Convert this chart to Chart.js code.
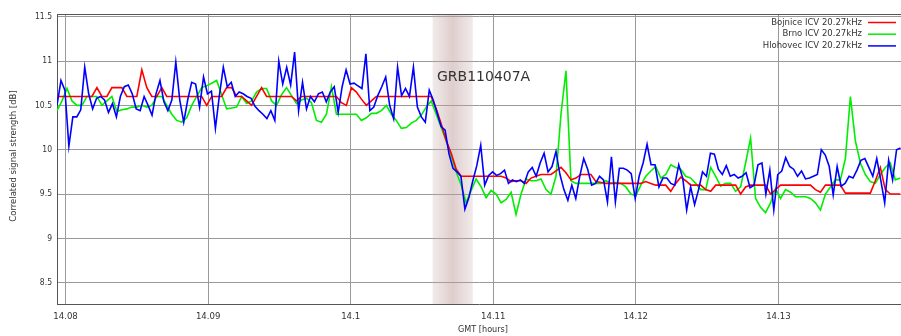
<!DOCTYPE html>
<html><head><meta charset="utf-8">
<script src="https://cdn.jsdelivr.net/npm/chart.js@4"></script>
<style>html,body{margin:0;padding:0;background:#fff;}#wrap{width:901px;height:336px;}</style>
</head><body><div id="wrap"><canvas id="c" width="901" height="336"></canvas></div>
<script>
// ---- data ----
const T0 = 14.0794;          // time of first sample (GMT hours)
const STEP_RG = 0.00035;     // hours between Bojnice / Brno samples
const STEP_B = 1 / 3600;     // hours between Hlohovec samples
const seriesNames = ['Bojnice ICV 20.27kHz', 'Brno ICV 20.27kHz', 'Hlohovec ICV 20.27kHz'];
const bojnice = [
10.6,10.6,10.6,10.6,10.6,10.6,10.6,10.6,10.7,10.6,
10.6,10.7,10.7,10.7,10.6,10.6,10.6,10.9,10.7,10.6,
10.6,10.7,10.6,10.6,10.6,10.6,10.6,10.6,10.6,10.6,
10.5,10.6,10.6,10.6,10.7,10.7,10.6,10.6,10.55,10.5,
10.6,10.7,10.6,10.6,10.6,10.6,10.6,10.6,10.55,10.6,
10.6,10.6,10.6,10.6,10.6,10.6,10.6,10.53,10.5,10.7,
10.65,10.57,10.5,10.55,10.6,10.6,10.6,10.6,10.6,10.6,
10.6,10.6,10.6,10.6,10.6,10.6,10.46,10.29,10.1,9.96,
9.78,9.7,9.7,9.7,9.7,9.7,9.7,9.7,9.7,9.7,
9.68,9.64,9.65,9.65,9.62,9.68,9.7,9.72,9.72,9.72,
9.76,9.8,9.74,9.66,9.68,9.72,9.72,9.72,9.64,9.63,
9.62,9.62,9.62,9.62,9.62,9.62,9.62,9.62,9.64,9.62,
9.6,9.6,9.6,9.53,9.62,9.69,9.65,9.6,9.6,9.6,
9.55,9.53,9.6,9.6,9.6,9.6,9.6,9.5,9.58,9.6,
9.6,9.6,9.6,9.5,9.55,9.6,9.6,9.6,9.6,9.6,
9.6,9.6,9.55,9.52,9.6,9.6,9.6,9.6,9.51,9.51,
9.51,9.51,9.51,9.51,9.65,9.8,9.55,9.5,9.5,9.5];
const brno = [
10.44,10.55,10.69,10.55,10.5,10.5,10.6,10.6,10.6,10.5,
10.55,10.6,10.43,10.45,10.46,10.48,10.48,10.5,10.48,10.5,
10.6,10.6,10.5,10.4,10.33,10.31,10.36,10.5,10.6,10.7,
10.72,10.75,10.78,10.62,10.46,10.47,10.48,10.6,10.52,10.55,
10.65,10.69,10.69,10.55,10.5,10.62,10.7,10.61,10.52,10.56,
10.58,10.53,10.33,10.31,10.4,10.71,10.4,10.4,10.4,10.4,
10.4,10.33,10.36,10.41,10.41,10.44,10.5,10.4,10.33,10.24,
10.25,10.3,10.33,10.39,10.48,10.55,10.4,10.25,10.1,9.93,
9.75,9.6,9.4,9.54,9.67,9.58,9.46,9.54,9.5,9.4,
9.44,9.52,9.27,9.5,9.67,9.65,9.65,9.67,9.55,9.5,
9.7,10.4,10.89,9.65,9.62,9.62,9.62,9.62,9.62,9.62,
9.65,9.62,9.63,9.62,9.58,9.5,9.48,9.6,9.7,9.76,
9.81,9.68,9.72,9.83,9.8,9.78,9.7,9.68,9.62,9.55,
9.55,9.8,9.7,9.59,9.62,9.62,9.53,9.58,9.85,10.13,
9.45,9.35,9.29,9.4,9.56,9.45,9.55,9.52,9.47,9.47,
9.47,9.45,9.4,9.32,9.5,9.58,9.66,9.66,9.9,10.6,
10.1,9.85,9.72,9.64,9.62,9.72,9.8,9.85,9.66,9.68];
const hlohovec = [
10.5,10.78,10.67,10.04,10.37,10.37,10.45,10.93,10.63,10.46,
10.58,10.6,10.56,10.42,10.52,10.37,10.6,10.71,10.73,10.63,
10.46,10.44,10.6,10.5,10.39,10.63,10.78,10.54,10.44,10.56,
10.99,10.56,10.31,10.56,10.76,10.74,10.48,10.82,10.63,10.66,
10.24,10.61,10.93,10.71,10.76,10.6,10.65,10.63,10.6,10.58,
10.49,10.44,10.4,10.35,10.44,10.33,11.0,10.74,10.93,10.73,
11.1,10.44,10.76,10.46,10.6,10.54,10.63,10.65,10.54,10.65,
10.71,10.42,10.71,10.9,10.74,10.75,10.72,10.69,11.08,10.44,
10.48,10.61,10.71,10.82,10.5,10.35,10.93,10.61,10.69,10.6,
10.93,10.48,10.37,10.31,10.67,10.56,10.41,10.26,10.22,9.95,
9.79,9.75,9.7,9.33,9.46,9.65,9.82,10.05,9.6,9.71,
9.75,9.71,9.73,9.77,9.62,9.66,9.64,9.66,9.62,9.75,
9.8,9.7,9.85,9.96,9.75,9.81,9.98,9.72,9.55,9.43,
9.6,9.45,9.7,9.9,9.78,9.6,9.62,9.7,9.66,9.41,
9.92,9.41,9.79,9.79,9.77,9.73,9.45,9.7,9.85,10.06,
9.83,9.83,9.58,9.68,9.68,9.62,9.6,9.83,9.68,9.32,
9.58,9.38,9.55,9.75,9.7,9.96,9.95,9.78,9.72,9.82,
9.7,9.72,9.68,9.7,9.74,9.57,9.6,9.83,9.85,9.5,
9.77,9.32,9.72,9.76,9.91,9.81,9.78,9.7,9.76,9.67,
9.68,9.7,9.72,10.0,9.94,9.81,9.49,9.81,9.59,9.62,
9.7,9.68,9.77,9.88,9.9,9.8,9.7,9.9,9.66,9.4,
9.88,9.66,10.0,10.02];
const xTicks = [14.08, 14.09, 14.10, 14.11, 14.12, 14.13];
const yTicks = [8.5, 9, 9.5, 10, 10.5, 11, 11.5];
const xRange = [14.0794, 14.1386];
const yRange = [8.26, 11.53];
const eventLabel = 'GRB110407A';
const eventSpan = [14.10575, 14.10856];
const xTitle = 'GMT [hours]';
const yTitle = 'Correlated signal strength [dB]';
const colors = ['#ff0000', '#00ee00', '#0000ff'];

// ---- build ----
const toXY = (arr, step) => arr.map((v, i) => ({ x: T0 + i * step, y: v }));

const extras = {
  id: 'extras',
  beforeDatasetsDraw(chart) {
    const { ctx, chartArea: a, scales: { x } } = chart;
    const x1 = x.getPixelForValue(eventSpan[0]), x2 = x.getPixelForValue(eventSpan[1]);
    const g = ctx.createLinearGradient(x1, 0, x2, 0);
    g.addColorStop(0, 'rgba(200,170,170,0.25)');
    g.addColorStop(0.5, 'rgba(190,155,155,0.5)');
    g.addColorStop(1, 'rgba(200,170,170,0.25)');
    ctx.save();
    ctx.fillStyle = g;
    ctx.fillRect(x1, a.top, x2 - x1, a.bottom - a.top);
    ctx.restore();
  },
  afterDraw(chart) {
    const { ctx, chartArea: a } = chart;
    ctx.save();
    // top border
    ctx.strokeStyle = '#555'; ctx.lineWidth = 1;
    ctx.beginPath(); ctx.moveTo(a.left, a.top + 0.5); ctx.lineTo(a.right, a.top + 0.5); ctx.stroke();
    // event label
    ctx.fillStyle = '#333';
    ctx.font = '14px "DejaVu Sans"';
    ctx.textAlign = 'left'; ctx.textBaseline = 'middle';
    ctx.fillText(eventLabel, 437, 77);
    // legend
    ctx.font = '8.5px "DejaVu Sans"';
    ctx.textAlign = 'right';
    seriesNames.forEach((n, k) => {
      const y = 22.5 + k * 11.7;
      ctx.fillStyle = '#333';
      ctx.fillText(n, 862, y);
      ctx.strokeStyle = colors[k]; ctx.lineWidth = 1.5;
      ctx.beginPath(); ctx.moveTo(868, y); ctx.lineTo(896, y); ctx.stroke();
    });
    // axis titles
    ctx.fillStyle = '#333';
    ctx.textAlign = 'center';
    ctx.font = '9px "DejaVu Sans Condensed"';
    ctx.fillText(xTitle, 483, 330);
    ctx.translate(14, 156); ctx.rotate(-Math.PI / 2);
    ctx.font = '8.5px "DejaVu Sans"';
    ctx.fillText(yTitle, 0, 0);
    ctx.restore();
  }
};

new Chart(document.getElementById('c'), {
  type: 'line',
  data: {
    datasets: [
      { label: seriesNames[0], data: toXY(bojnice, STEP_RG), borderColor: colors[0], order: 1 },
      { label: seriesNames[1], data: toXY(brno, STEP_RG), borderColor: colors[1], order: 2 },
      { label: seriesNames[2], data: toXY(hlohovec, STEP_B), borderColor: colors[2], order: 0 }
    ]
  },
  options: {
    responsive: false, animation: false, devicePixelRatio: 1,
    parsing: false,
    elements: { point: { radius: 0 }, line: { borderWidth: 1.6, tension: 0 } },
    layout: { padding: { top: 14, right: 0, left: 0, bottom: 0 } },
    plugins: { legend: { display: false }, tooltip: { enabled: false } },
    scales: {
      x: {
        type: 'linear', min: xRange[0], max: xRange[1],
        afterBuildTicks: s => { s.ticks = xTicks.map(v => ({ value: v })); },
        afterFit: s => { s.height = 32; },
        grid: { color: '#999', lineWidth: 1, drawTicks: false },
        border: { display: true, color: '#555', width: 1 },
        ticks: { padding: 7, color: '#333', maxRotation: 0, autoSkip: false,
          font: { family: 'DejaVu Sans Condensed', size: 9.5 },
          callback: v => String(+(+v).toFixed(2)) }
      },
      y: {
        type: 'linear', min: yRange[0], max: yRange[1],
        afterBuildTicks: s => { s.ticks = yTicks.map(v => ({ value: v })); },
        afterFit: s => { s.width = 57; },
        grid: { color: '#999', lineWidth: 1, drawTicks: false },
        border: { display: true, color: '#555', width: 1 },
        ticks: { padding: 5, color: '#333', autoSkip: false,
          font: { family: 'DejaVu Sans Condensed', size: 8.5 },
          callback: v => String(+(+v).toFixed(2)) }
      }
    }
  },
  plugins: [extras]
});
</script></body></html>
